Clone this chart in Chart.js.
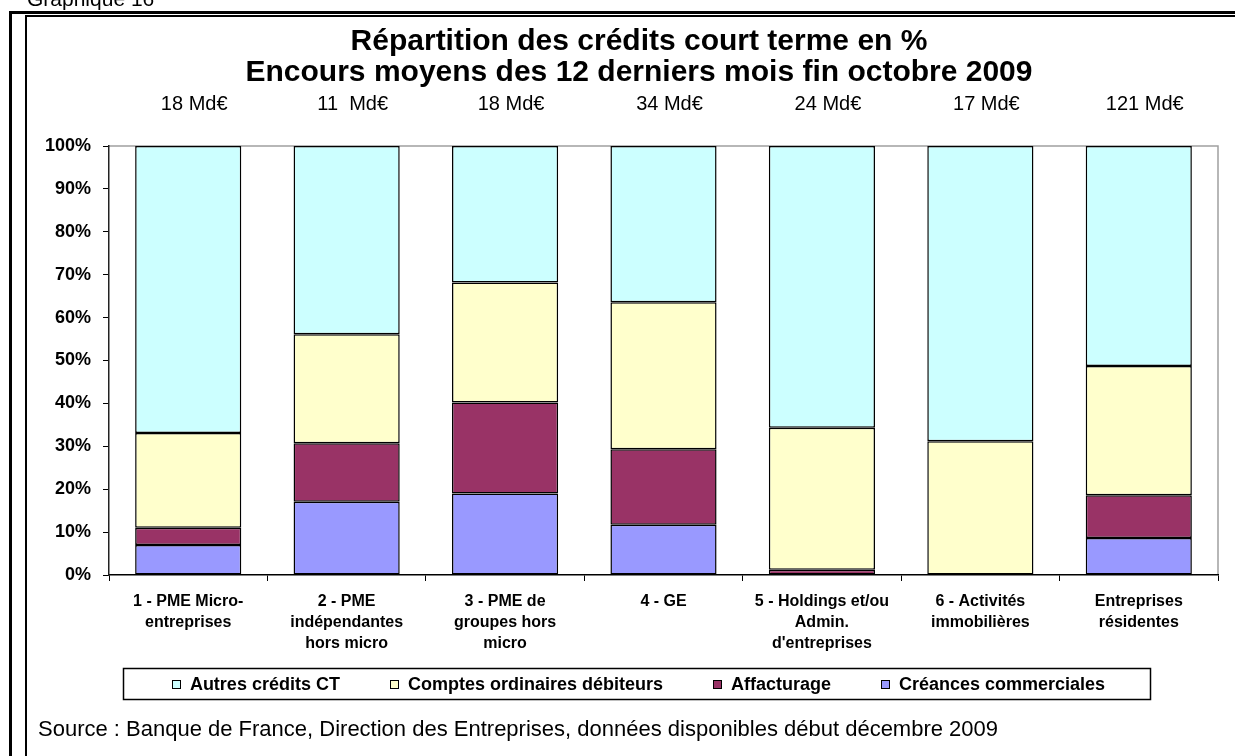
<!DOCTYPE html>
<html>
<head>
<meta charset="utf-8">
<title>Répartition des crédits court terme en %</title>
<script src="https://cdn.jsdelivr.net/npm/chart.js@4/dist/chart.umd.min.js"></script>
<style>
  html, body { margin: 0; padding: 0; background: #fff; overflow: hidden; }
  canvas { display: block; }
</style>
</head>
<body>
<canvas id="myChart" width="1235" height="756"></canvas>
<script>
// categories (multi-line labels) and total outstanding amounts
const categories = [
  ["1 - PME Micro-", "entreprises"],
  ["2 - PME", "indépendantes", "hors micro"],
  ["3 - PME de", "groupes hors", "micro"],
  ["4 - GE"],
  ["5 - Holdings et/ou", "Admin.", "d'entreprises"],
  ["6 - Activités", "immobilières"],
  ["Entreprises", "résidentes"],
];
const encours = ["18 Md€", "11  Md€", "18 Md€", "34 Md€", "24 Md€", "17 Md€", "121 Md€"];

// shares in %
const creances = [7.0, 17.1, 19.0, 11.7, 0, 0, 8.6];
const affacturage = [4.0, 13.6, 21.2, 17.6, 1.2, 0, 10.0];
const comptes = [22.1, 25.4, 28.0, 34.3, 33.1, 31.2, 30.1];
const autres = [66.9, 43.9, 31.8, 36.4, 65.7, 68.8, 51.3];

const yTicks = [0, 10, 20, 30, 40, 50, 60, 70, 80, 90, 100];

const FONT = "'Liberation Sans', Arial, sans-serif";

function drawLegend(chart) {
  const ctx = chart.ctx;
  const items = chart.data.datasets.slice().reverse();
  ctx.font = "bold 18px " + FONT;
  const box = 9, gapText = 9, gapItem = 50;
  const widths = items.map((d) => box + gapText + ctx.measureText(d.label).width);
  const total = widths.reduce((a, b) => a + b, 0) + gapItem * (items.length - 1);
  const cy = 684;
  let x = 638.5 - total / 2;
  ctx.strokeStyle = "#000";
  ctx.lineWidth = 1.5;
  ctx.strokeRect(Math.round(x - 49) + 0.5, 668.5, Math.round(total + 94), 31);
  ctx.textAlign = "left";
  ctx.textBaseline = "middle";
  items.forEach((d, i) => {
    const bx = Math.round(x);
    ctx.fillStyle = d.backgroundColor;
    ctx.fillRect(bx, cy - 4, box, box);
    ctx.lineWidth = 1;
    ctx.strokeRect(bx + 0.5, cy - 3.5, box - 1, box - 1);
    ctx.fillStyle = "#000";
    ctx.fillText(d.label, x + box + gapText, cy + 1);
    x += widths[i] + gapItem;
  });
}

const decor = {
  id: "decor",
  beforeDraw(chart) {
    const ctx = chart.ctx;
    ctx.save();
    ctx.fillStyle = "#fff";
    ctx.fillRect(0, 0, chart.width, chart.height);
    // page frames
    ctx.fillStyle = "#000";
    ctx.fillRect(9, 11, 3, 745);
    ctx.fillRect(9, 11, 1226, 3);
    ctx.fillRect(25, 15, 2, 741);
    ctx.fillRect(25, 15, 1210, 2);
    // grey plot frame (top and right)
    const a = chart.chartArea;
    ctx.strokeStyle = "#a0a0a0";
    ctx.lineWidth = 1.5;
    ctx.beginPath();
    ctx.moveTo(a.left, a.top);
    ctx.lineTo(a.right, a.top);
    ctx.lineTo(a.right, a.bottom);
    ctx.stroke();
    ctx.restore();
  },
  afterDraw(chart) {
    const ctx = chart.ctx;
    const x = chart.scales.x;
    ctx.save();
    ctx.fillStyle = "#000";
    ctx.textBaseline = "middle";
    ctx.textAlign = "center";
    ctx.font = "20px " + FONT;
    encours.forEach((t, i) => {
      ctx.fillText(t, x.getPixelForValue(i) + 6, 104);
    });

    drawLegend(chart);

    ctx.fillStyle = "#000";
    ctx.textAlign = "left";
    ctx.textBaseline = "alphabetic";
    ctx.font = "22px " + FONT;
    ctx.fillText("Source : Banque de France, Direction des Entreprises, données disponibles début décembre 2009", 38, 736);
    ctx.font = "21px " + FONT;
    ctx.fillText("Graphique 16", 27, 6);
    ctx.restore();
  },
};

new Chart(document.getElementById("myChart"), {
  type: "bar",
  data: {
    labels: categories,
    datasets: [
      { label: "Créances commerciales", data: creances, backgroundColor: "#9999FF" },
      { label: "Affacturage", data: affacturage, backgroundColor: "#993366" },
      { label: "Comptes ordinaires débiteurs", data: comptes, backgroundColor: "#FFFFCC" },
      { label: "Autres crédits CT", data: autres, backgroundColor: "#CCFFFF" },
    ].map((d) => ({
      ...d,
      borderColor: "#000",
      borderWidth: 1.5,
      borderSkipped: false,
      categoryPercentage: 1,
      barPercentage: 0.67,
    })),
  },
  options: {
    responsive: false,
    animation: false,
    events: [],
    layout: { padding: { top: 13, left: 60, right: 17, bottom: 90.5 } },
    plugins: {
      title: {
        display: true,
        text: ["Répartition des crédits court terme en %", "Encours moyens des 12 derniers mois fin octobre 2009"],
        color: "#000",
        font: { family: FONT, size: 30, weight: "bold", lineHeight: 31 / 30 },
        padding: { top: 13, bottom: 58 },
      },
      legend: { display: false },
      tooltip: { enabled: false },
    },
    scales: {
      x: {
        stacked: true,
        afterFit: (s) => { s.height = 90.5; },
        grid: { display: true, drawOnChartArea: false, drawTicks: true, tickLength: 6, color: "#000", offset: true },
        border: { display: true, color: "#000", width: 1.5 },
        ticks: {
          color: "#000",
          maxRotation: 0,
          autoSkip: false,
          padding: 10,
          font: { family: FONT, size: 16, weight: "bold", lineHeight: 21 / 16 },
        },
      },
      y: {
        stacked: true,
        min: yTicks[0],
        max: yTicks[yTicks.length - 1],
        afterFit: (s) => {
          s.width = 49;
          s._computeLabelArea = () => undefined; // let tick labels extend left of the box
        },
        afterBuildTicks: (s) => { s.ticks = yTicks.map((v) => ({ value: v })); },
        grid: { display: true, drawOnChartArea: false, drawTicks: true, tickLength: 6, color: "#000" },
        border: { display: true, color: "#222", width: 1.5 },
        ticks: {
          color: "#000",
          padding: 12,
          font: { family: FONT, size: 18, weight: "bold" },
          callback: (v) => v + "%",
        },
      },
    },
  },
  plugins: [decor],
});
</script>
</body>
</html>
